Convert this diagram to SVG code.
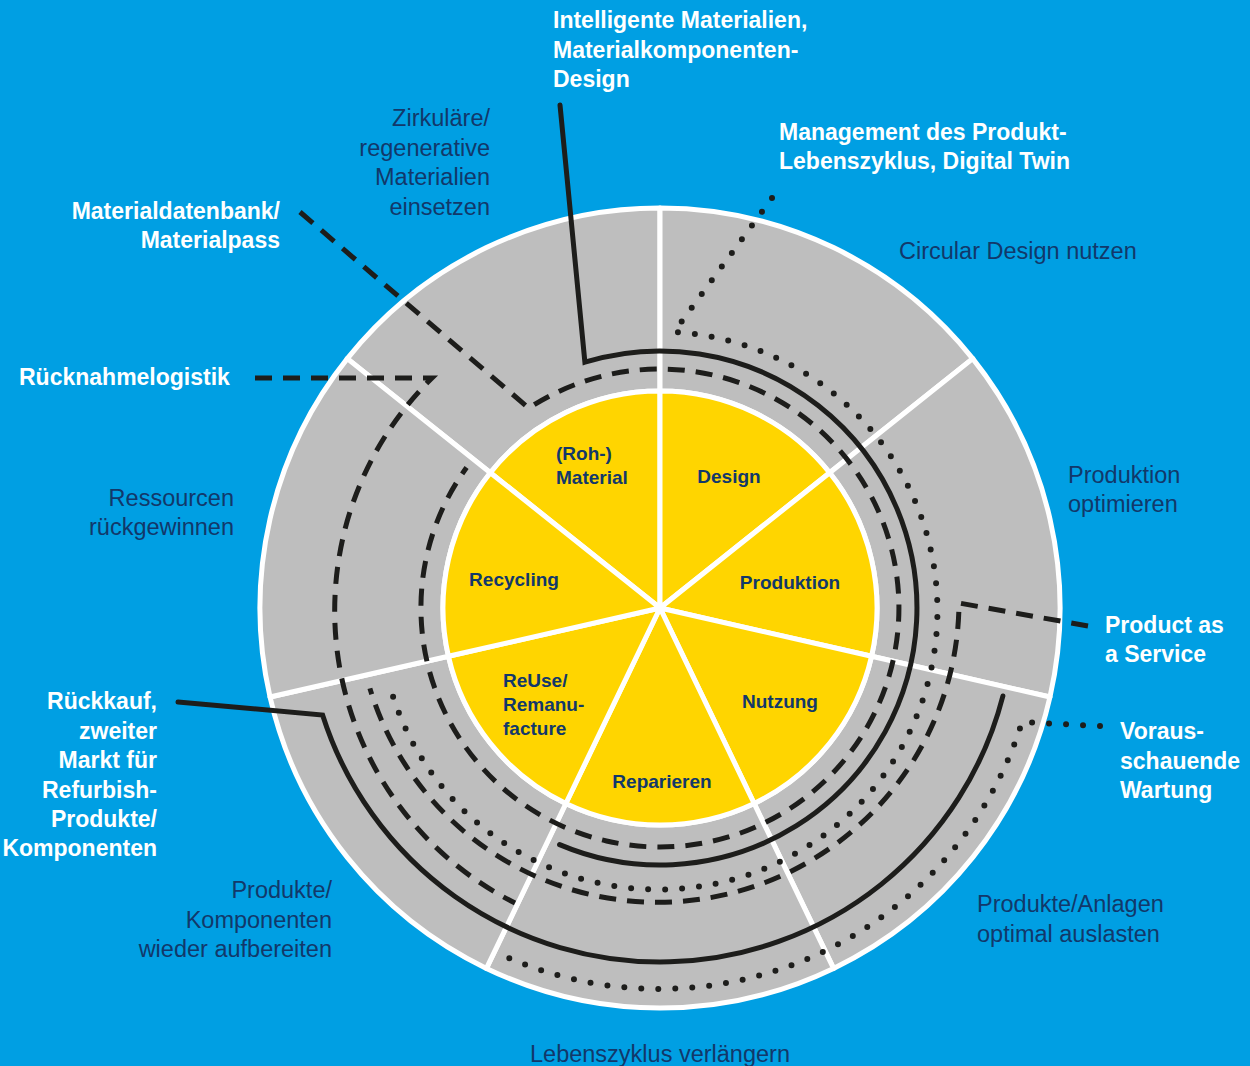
<svg xmlns="http://www.w3.org/2000/svg" width="1250" height="1066" viewBox="0 0 1250 1066">
<style>
.seg{fill:#BEBEBE;stroke:#FFFFFF;stroke-width:5;stroke-linejoin:round}
.core{fill:#FFD500;stroke:#FFFFFF;stroke-width:5;stroke-linejoin:round}
.ln{fill:none;stroke:#1D1D1B;stroke-width:5}
.solid{stroke-linecap:round;stroke-linejoin:miter}
.dash{stroke-dasharray:17 11}
.dot{stroke-width:6;stroke-dasharray:0 17;stroke-linecap:round}
text{font-family:"Liberation Sans",Arial,sans-serif}
.wb{fill:#FFFFFF;font-weight:bold;font-size:23px}
.nr{fill:#12386A;font-size:23.5px}
.yl{fill:#12386A;font-weight:bold;font-size:19px}
</style>
<rect x="0" y="0" width="1250" height="1066" fill="#009FE3"/>

<g id="material">
<path class="seg" d="M347.27,358.60 A400,400 0 0 1 660,208 L660,391 A217,217 0 0 0 490.34,472.70 Z"/>
<path class="core" d="M660,608 L490.34,472.70 A217,217 0 0 1 660,391 Z"/>
<text class="yl" x="556" y="460">(Roh-)</text>
<text class="yl" x="556" y="484">Material</text>
<text class="nr" text-anchor="end" x="490" y="126">Zirkuläre/</text>
<text class="nr" text-anchor="end" x="490" y="155.5">regenerative</text>
<text class="nr" text-anchor="end" x="490" y="185">Materialien</text>
<text class="nr" text-anchor="end" x="490" y="214.5">einsetzen</text>
</g>

<g id="design">
<path class="seg" d="M660,208 A400,400 0 0 1 972.73,358.60 L829.66,472.70 A217,217 0 0 0 660,391 Z"/>
<path class="core" d="M660,608 L660,391 A217,217 0 0 1 829.66,472.70 Z"/>
<text class="yl" text-anchor="middle" x="729" y="483">Design</text>
<text class="nr" x="899" y="259">Circular Design nutzen</text>
</g>

<g id="produktion">
<path class="seg" d="M972.73,358.60 A400,400 0 0 1 1049.97,697.01 L871.56,656.29 A217,217 0 0 0 829.66,472.70 Z"/>
<path class="core" d="M660,608 L829.66,472.70 A217,217 0 0 1 871.56,656.29 Z"/>
<text class="yl" text-anchor="middle" x="790" y="589">Produktion</text>
<text class="nr" x="1068" y="483">Produktion</text>
<text class="nr" x="1068" y="512">optimieren</text>
</g>

<g id="nutzung">
<path class="seg" d="M1049.97,697.01 A400,400 0 0 1 833.55,968.39 L754.15,803.51 A217,217 0 0 0 871.56,656.29 Z"/>
<path class="core" d="M660,608 L871.56,656.29 A217,217 0 0 1 754.15,803.51 Z"/>
<text class="yl" text-anchor="middle" x="780" y="708">Nutzung</text>
<text class="nr" x="977" y="912">Produkte/Anlagen</text>
<text class="nr" x="977" y="941.5">optimal auslasten</text>
</g>

<g id="reparieren">
<path class="seg" d="M833.55,968.39 A400,400 0 0 1 486.45,968.39 L565.85,803.51 A217,217 0 0 0 754.15,803.51 Z"/>
<path class="core" d="M660,608 L754.15,803.51 A217,217 0 0 1 565.85,803.51 Z"/>
<text class="yl" text-anchor="middle" x="662" y="788">Reparieren</text>
<text class="nr" text-anchor="middle" x="660" y="1062">Lebenszyklus verlängern</text>
</g>

<g id="reuse">
<path class="seg" d="M486.45,968.39 A400,400 0 0 1 270.03,697.01 L448.44,656.29 A217,217 0 0 0 565.85,803.51 Z"/>
<path class="core" d="M660,608 L565.85,803.51 A217,217 0 0 1 448.44,656.29 Z"/>
<text class="yl" x="503" y="687">ReUse/</text>
<text class="yl" x="503" y="711">Remanu-</text>
<text class="yl" x="503" y="735">facture</text>
<text class="nr" text-anchor="end" x="332" y="898">Produkte/</text>
<text class="nr" text-anchor="end" x="332" y="927.5">Komponenten</text>
<text class="nr" text-anchor="end" x="332" y="957">wieder aufbereiten</text>
</g>

<g id="recycling">
<path class="seg" d="M270.03,697.01 A400,400 0 0 1 347.27,358.60 L490.34,472.70 A217,217 0 0 0 448.44,656.29 Z"/>
<path class="core" d="M660,608 L448.44,656.29 A217,217 0 0 1 490.34,472.70 Z"/>
<text class="yl" text-anchor="middle" x="514" y="586">Recycling</text>
<text class="nr" text-anchor="end" x="234" y="506">Ressourcen</text>
<text class="nr" text-anchor="end" x="234" y="535">rückgewinnen</text>
</g>

<g id="connectors">
<path id="c-intelligent" class="ln solid" d="M560,105 L584.9,362.2 A257,257 0 1 1 559.6,844.6"/>
<path id="c-rueckkauf" class="ln solid" d="M178,702 L322.6,715 A354,354 0 0 0 1002.9,696"/>
<path id="c-materialdb" class="ln dash" d="M300,212 L528.8,408.2 A239,239 0 1 1 466.6,467.5"/>
<path id="c-ruecknahme" class="ln dash" d="M255,378 L432,378 A327,327 0 0 0 515,903"/>
<path id="c-paas" class="ln dash" d="M1088,626 L959,603 A301,301 0 0 1 369.9,688.4"/>
<path id="c-twin" class="ln dot" d="M772,198 L674,332 A279,279 0 1 1 389,683"/>
<path id="c-wartung" class="ln dot" d="M1100,726 L1022,722 A380,380 0 0 1 500,954"/>
</g>

<g id="labels">
<g id="l-intelligent">
<text class="wb" x="553" y="28">Intelligente Materialien,</text>
<text class="wb" x="553" y="57.5">Materialkomponenten-</text>
<text class="wb" x="553" y="87">Design</text>
</g>
<g id="l-twin">
<text class="wb" x="779" y="140">Management des Produkt-</text>
<text class="wb" x="779" y="169">Lebenszyklus, Digital Twin</text>
</g>
<g id="l-materialdb">
<text class="wb" text-anchor="end" x="280" y="219">Materialdatenbank/</text>
<text class="wb" text-anchor="end" x="280" y="248">Materialpass</text>
</g>
<g id="l-ruecknahme">
<text class="wb" x="19" y="385">Rücknahmelogistik</text>
</g>
<g id="l-paas">
<text class="wb" x="1105" y="633">Product as</text>
<text class="wb" x="1105" y="662">a Service</text>
</g>
<g id="l-wartung">
<text class="wb" x="1120" y="739">Voraus-</text>
<text class="wb" x="1120" y="768.5">schauende</text>
<text class="wb" x="1120" y="798">Wartung</text>
</g>
<g id="l-rueckkauf">
<text class="wb" text-anchor="end" x="157" y="709">Rückkauf,</text>
<text class="wb" text-anchor="end" x="157" y="738.5">zweiter</text>
<text class="wb" text-anchor="end" x="157" y="768">Markt für</text>
<text class="wb" text-anchor="end" x="157" y="797.5">Refurbish-</text>
<text class="wb" text-anchor="end" x="157" y="827">Produkte/</text>
<text class="wb" text-anchor="end" x="157" y="856">Komponenten</text>
</g>
</g>
</svg>
